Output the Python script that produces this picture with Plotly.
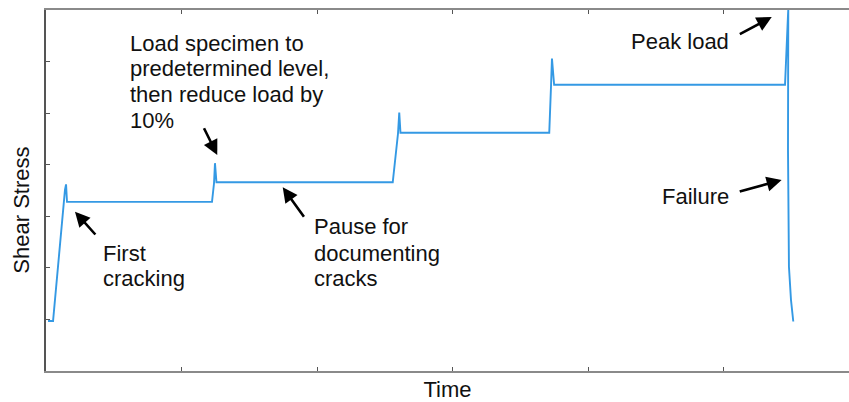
import plotly.graph_objects as go

# Time (arbitrary units, axis ticks every 1) and shear stress (arbitrary units)
time = [0.015, 0.052, 0.140, 0.148, 0.155, 1.225,
        1.240, 1.247, 1.258, 2.559,
        2.598, 2.607, 2.616, 3.714,
        3.727, 3.734, 3.750, 5.454,
        5.476, 5.478, 5.476, 5.483, 5.498, 5.515]
stress = [0.97, 0.97, 3.51, 3.62, 3.28, 3.28,
          3.64, 4.03, 3.66, 3.66,
          4.61, 5.01, 4.62, 4.62,
          5.52, 6.06, 5.55, 5.55,
          6.90, 7.00, 4.28, 2.02, 1.38, 0.96]

x_ticks = [1, 2, 3, 4, 5]
y_ticks = [1, 2, 3, 4, 5, 6]

FONT = "Liberation Sans, Arial, sans-serif"
FS = 22

fig = go.Figure()
fig.add_trace(go.Scatter(x=time, y=stress, mode="lines",
                         line=dict(color="#3499e4", width=1.9),
                         hoverinfo="skip", showlegend=False))

# text labels: (text, x, y, xanchor)
labels = [
    ("Load specimen to", 0.6125, 6.354, "left"),
    ("predetermined level,", 0.6125, 5.869, "left"),
    ("then reduce load by", 0.6125, 5.352, "left"),
    ("10%", 0.6125, 4.867, "left"),
    ("First", 0.411, 2.288, "left"),
    ("cracking", 0.411, 1.803, "left"),
    ("Pause for", 1.968, 2.798, "left"),
    ("documenting", 1.968, 2.282, "left"),
    ("cracks", 1.968, 1.798, "left"),
    ("Peak load", 5.048, 6.386, "right"),
    ("Failure", 5.048, 3.380, "right"),
]
for t, x, y, xa in labels:
    fig.add_annotation(x=x, y=y, text=t, showarrow=False, xanchor=xa,
                       yanchor="middle", borderpad=0,
                       font=dict(family=FONT, size=FS, color="#111111"))

# arrows: tip (data), tail offset (px)
arrows = [
    (0.214, 3.089, 21.7, 24.3),
    (1.264, 4.188, -14.0, -28.3),
    (1.747, 3.562, 22.3, 31.0),
    (5.356, 6.864, -33.4, 18.0),
    (5.429, 3.704, -43.4, 12.0),
]
for x, y, ax, ay in arrows:
    fig.add_annotation(x=x, y=y, ax=ax, ay=ay, text="", showarrow=True,
                       arrowhead=2, arrowsize=1.15, arrowwidth=2.6,
                       arrowcolor="#000000", standoff=0)

# y-axis title (placed slightly below plot centre as in the original)
fig.add_annotation(xref="paper", yref="paper", x=-0.0303, y=0.446,
                   text="Shear Stress", textangle=-90, showarrow=False,
                   xanchor="center", yanchor="middle", borderpad=0,
                   font=dict(family=FONT, size=FS, color="#111111"))

fig.update_layout(
    width=849, height=402,
    margin=dict(l=46, r=0, t=10, b=31),
    paper_bgcolor="white", plot_bgcolor="white",
    font=dict(family=FONT, size=FS, color="#111111"),
    xaxis=dict(range=[0, 803 / 135.5], tickvals=x_ticks, showticklabels=False,
               ticks="inside", ticklen=4, tickcolor="#555555", tickwidth=1.2,
               showline=True, linecolor="#8a8a8a", linewidth=1.5, mirror="ticks",
               showgrid=False, zeroline=False,
               title=dict(text="Time", standoff=11,
                          font=dict(family=FONT, size=FS, color="#111111"))),
    yaxis=dict(range=[0, 7], tickvals=y_ticks, showticklabels=False,
               ticks="inside", ticklen=4, tickcolor="#555555", tickwidth=1.2,
               showline=True, linecolor="#555555", linewidth=1.5,
               showgrid=False, zeroline=False),
)

fig.write_html("out.html")
